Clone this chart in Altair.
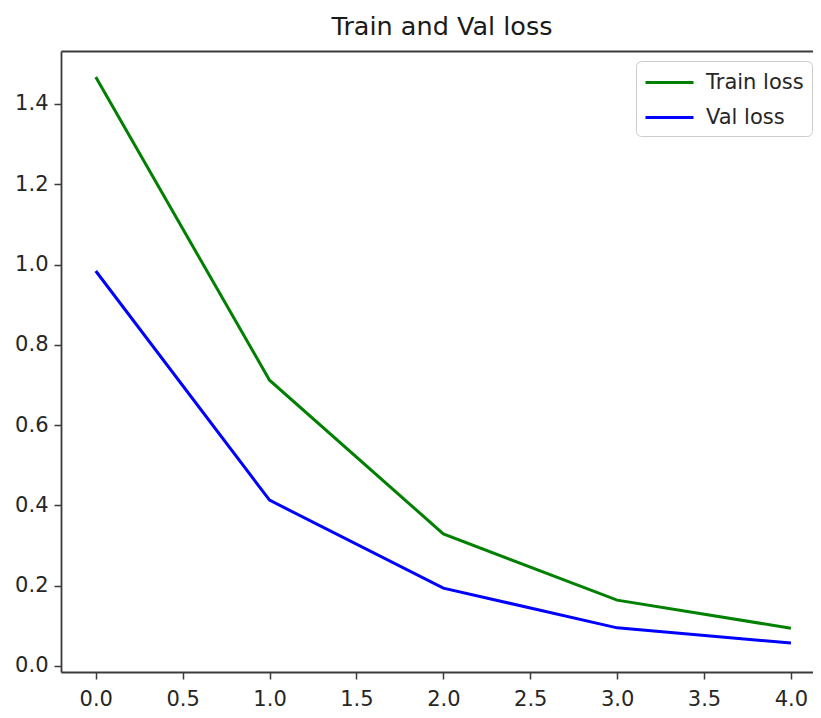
import altair as alt
import pandas as pd

epochs = [0, 1, 2, 3, 4]
train_loss = [1.467, 0.712, 0.329, 0.164, 0.094]
val_loss = [0.984, 0.413, 0.194, 0.095, 0.057]
series_names = ["Train loss", "Val loss"]
series_colors = ["green", "blue"]
x_ticks = [0.0, 0.5, 1.0, 1.5, 2.0, 2.5, 3.0, 3.5, 4.0]
y_ticks = [0.0, 0.2, 0.4, 0.6, 0.8, 1.0, 1.2, 1.4]

rows = []
for e, t, v in zip(epochs, train_loss, val_loss):
    rows.append({"epoch": e, "loss": t, "series": series_names[0]})
    rows.append({"epoch": e, "loss": v, "series": series_names[1]})
df = pd.DataFrame(rows)

FONT = "DejaVu Sans"
SPINE = "#3a3a3a"
TXT = "#262626"

xscale = alt.Scale(domain=[-0.2, 4.127], nice=False, zero=False)
yscale = alt.Scale(domain=[-0.015, 1.532], nice=False, zero=False)

common_axis = dict(
    grid=False, title=None, labelFont=FONT, labelFontSize=21, labelColor=TXT,
    domainColor=SPINE, domainWidth=1.8, tickColor=SPINE, tickWidth=1.5, tickSize=7,
)

lines = alt.Chart(df).mark_line(strokeWidth=3).encode(
    x=alt.X("epoch:Q", scale=xscale,
            axis=alt.Axis(values=x_ticks, format=".1f", orient="bottom", labelPadding=9, **common_axis)),
    y=alt.Y("loss:Q", scale=yscale,
            axis=alt.Axis(values=y_ticks, format=".1f", orient="left", labelPadding=6, **common_axis)),
    color=alt.Color("series:N",
                    scale=alt.Scale(domain=series_names, range=series_colors),
                    legend=alt.Legend(title=None, orient="none", legendX=575, legendY=10,
                                      symbolType="M-1,0H3", symbolSize=576, symbolStrokeWidth=3,
                                      labelFont=FONT, labelFontSize=21, labelColor=TXT,
                                      labelOffset=35, fillColor="white", strokeColor="#cccccc",
                                      cornerRadius=5, padding=8, rowPadding=11)),
)

top_frame = alt.Chart(df).mark_line(opacity=0).encode(
    x=alt.X("epoch:Q", scale=xscale,
            axis=alt.Axis(orient="top", labels=False, ticks=False, grid=False, title=None,
                          domainColor=SPINE, domainWidth=1.8)),
    y=alt.Y("loss:Q", scale=yscale),
    detail="series:N",
)

chart = alt.layer(lines, top_frame).properties(
    width=752, height=621,
    title=alt.TitleParams("Train and Val loss", font=FONT, fontSize=25.5, fontWeight="normal",
                          color="#1a1a1a", dx=5, offset=11),
    autosize="none",
    padding={"left": 53, "top": 43, "right": 0, "bottom": 38},
).configure_view(stroke=None).configure(background="white")

chart.save("out.html", embed_options={"renderer": "svg", "actions": False})
